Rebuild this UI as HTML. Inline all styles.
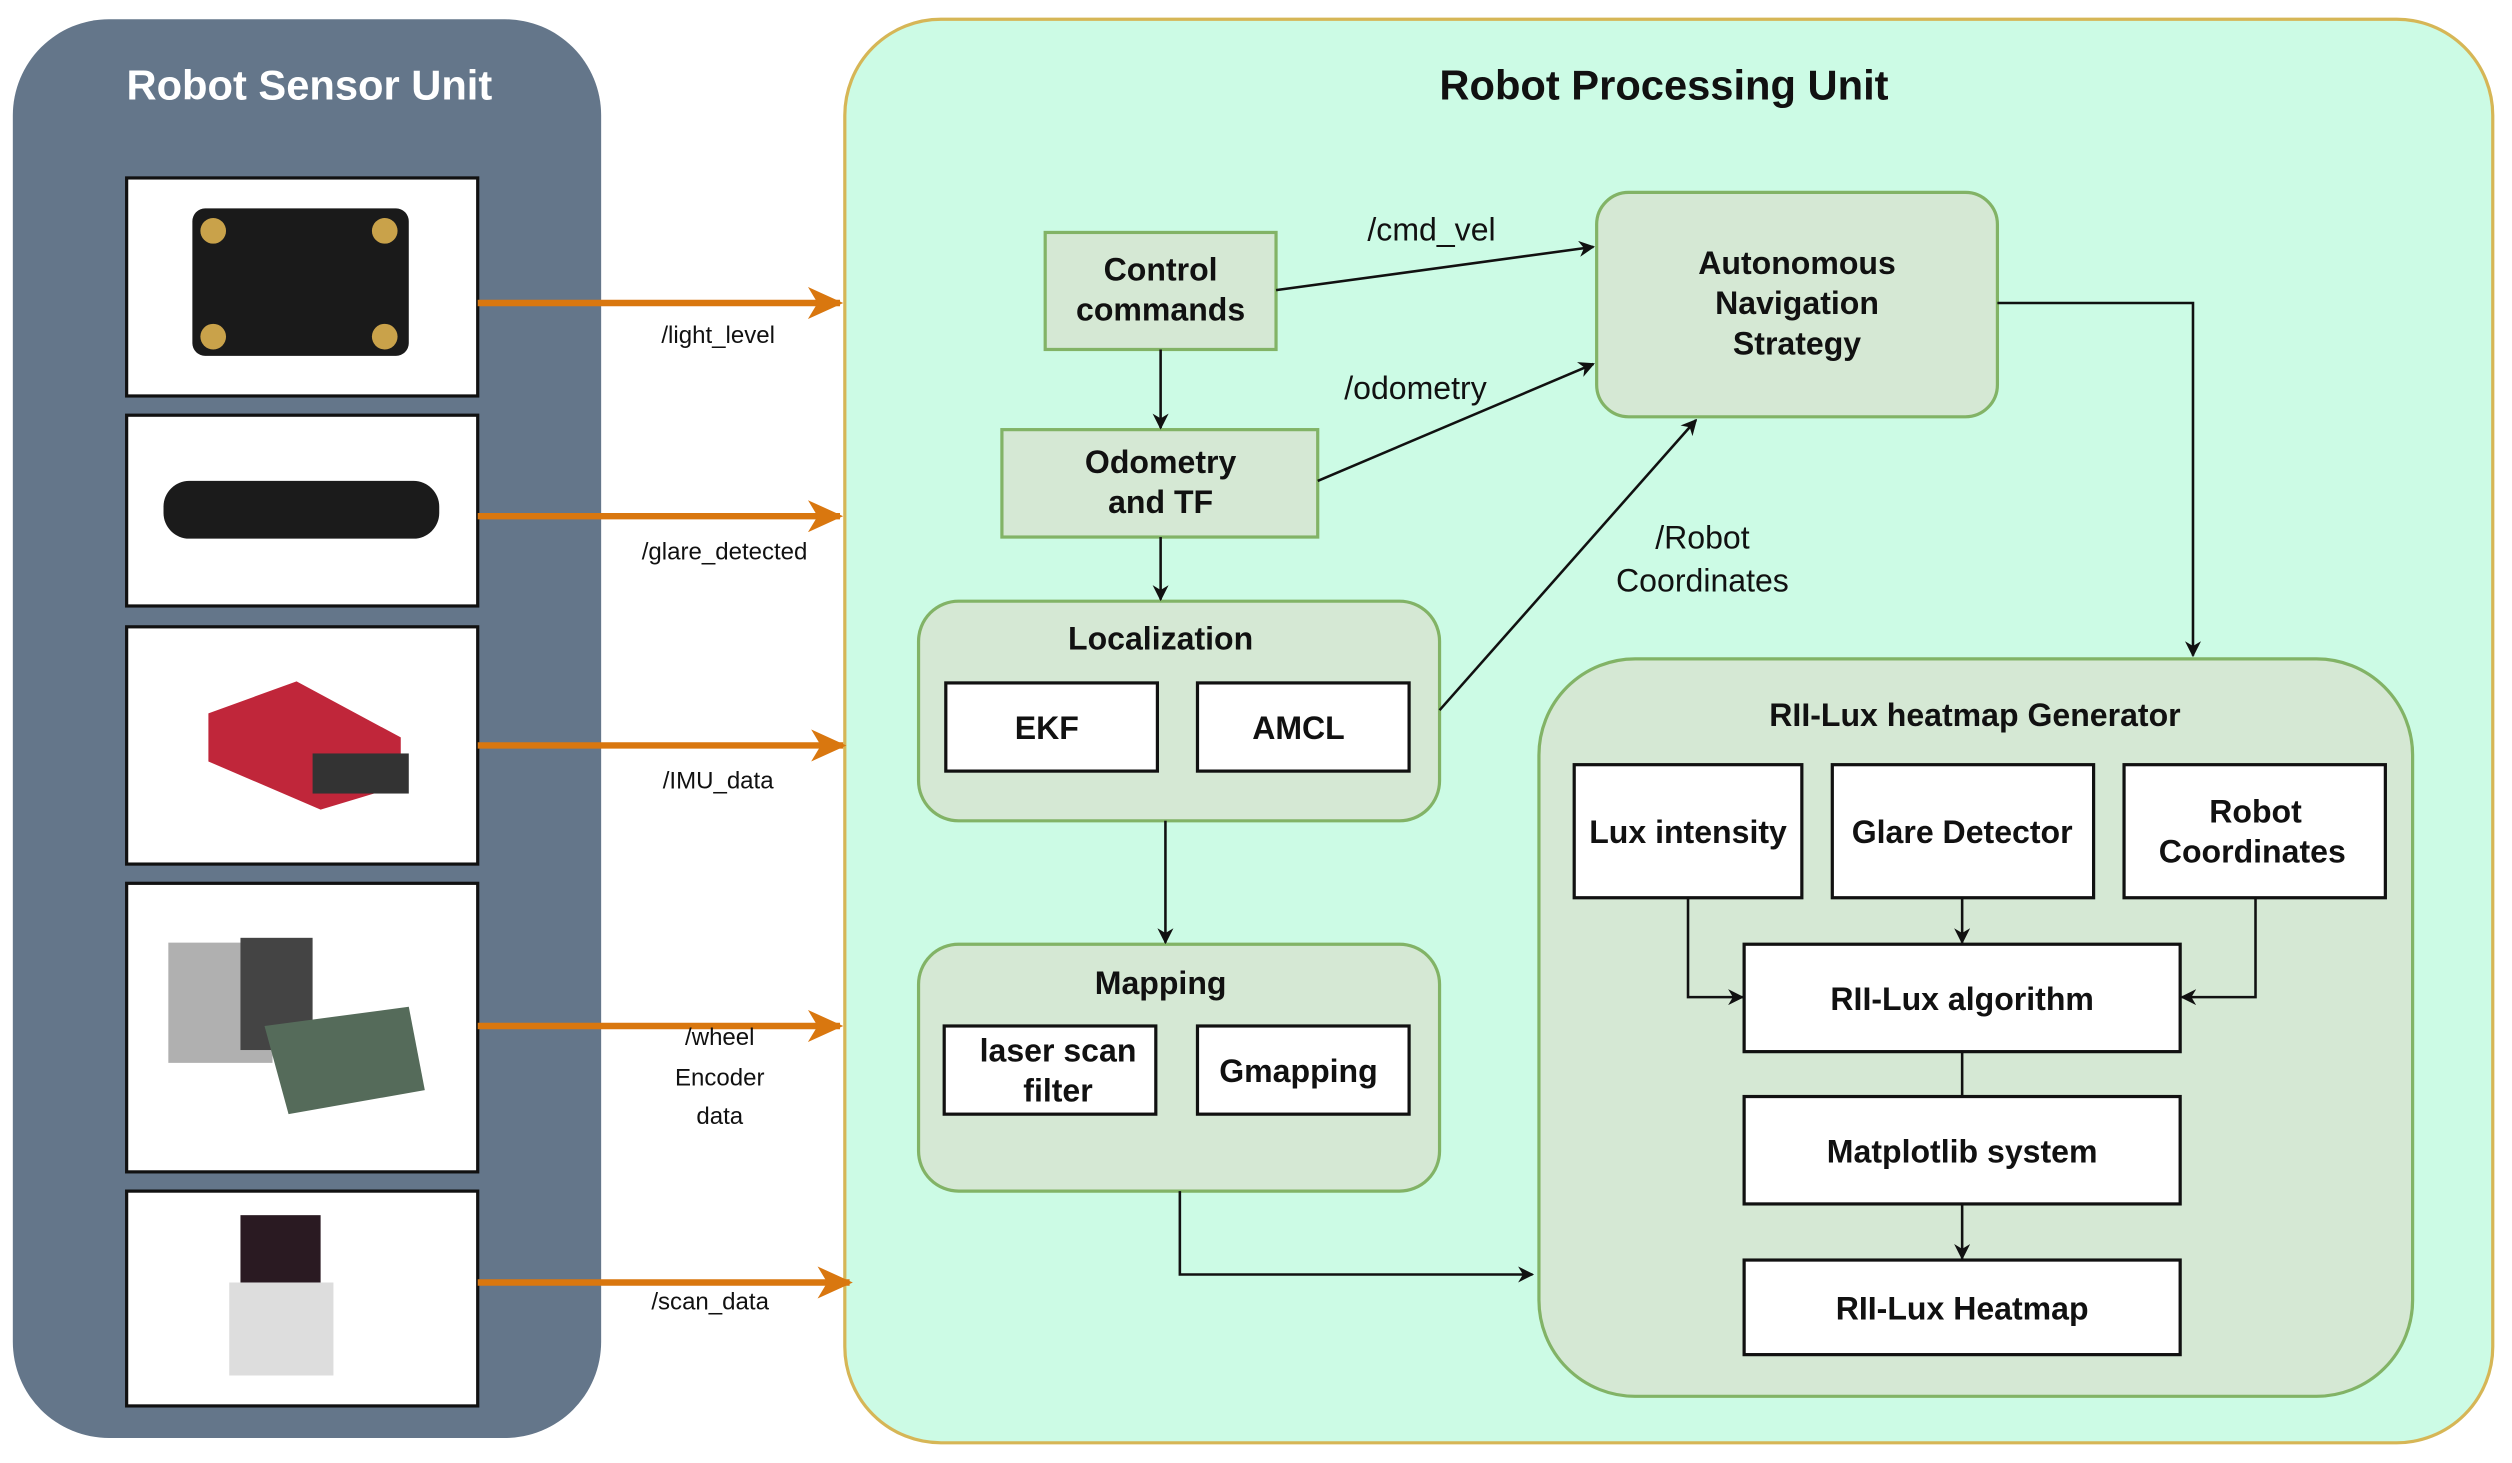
<!DOCTYPE html>
<html><head><meta charset="utf-8"><style>
html,body{margin:0;padding:0;background:#fff;}
svg{display:block;}
text{font-family:"Liberation Sans",sans-serif;}
.b{font-weight:bold;font-size:20px;fill:#111;}
.l{font-size:15px;fill:#111;}
</style></head><body>
<svg width="2512" height="1463" viewBox="0 0 1567 912.6" preserveAspectRatio="none" xmlns="http://www.w3.org/2000/svg">
<defs>
<marker id="ab" markerWidth="10" markerHeight="10" refX="9" refY="5" orient="auto" markerUnits="userSpaceOnUse"><path d="M0,0 L10,5 L0,10 L3,5 z" fill="#111"/></marker>
<marker id="ao" markerWidth="22" markerHeight="20" refX="20" refY="10" orient="auto" markerUnits="userSpaceOnUse"><path d="M0,0 L22,10 L0,20 L6,10 z" fill="#d9770f"/></marker>
</defs>
<rect x="8" y="12" width="367" height="885" rx="60" fill="#64768a"/>
<text x="193" y="62" text-anchor="middle" font-weight="bold" font-size="26" fill="#fff">Robot Sensor Unit</text>
<g fill="#fff" stroke="#111" stroke-width="2">
<rect x="79" y="111" width="219" height="136"/>
<rect x="79" y="259" width="219" height="119"/>
<rect x="79" y="391" width="219" height="148"/>
<rect x="79" y="551" width="219" height="180"/>
<rect x="79" y="743" width="219" height="134"/>
</g>
<rect x="120" y="130" width="135" height="92" rx="8" fill="#1a1a1a"/>
<g fill="#c9a24a"><circle cx="133" cy="144" r="8"/><circle cx="240" cy="144" r="8"/><circle cx="133" cy="210" r="8"/><circle cx="240" cy="210" r="8"/></g>
<rect x="102" y="300" width="172" height="36" rx="16" fill="#1b1b1b"/>
<path d="M130,445 L185,425 L250,460 L250,490 L200,505 L130,475 z" fill="#c0263a"/>
<rect x="195" y="470" width="60" height="25" fill="#333"/>
<rect x="105" y="588" width="65" height="75" fill="#b0b0b0"/><rect x="150" y="585" width="45" height="70" fill="#444"/>
<path d="M165,640 L255,628 L265,680 L180,695 z" fill="#556b5a"/>
<rect x="150" y="758" width="50" height="50" fill="#2a1a22"/><rect x="143" y="800" width="65" height="58" fill="#ddd"/>
<rect x="527" y="12" width="1028" height="888" rx="60" fill="#ccfbe5" stroke="#d6b656" stroke-width="2"/>
<text x="1038" y="62" text-anchor="middle" font-weight="bold" font-size="26" fill="#111">Robot Processing Unit</text>
<g stroke="#d9770f" stroke-width="4" marker-end="url(#ao)">
<line x1="298" y1="189" x2="524" y2="189"/>
<line x1="298" y1="322" x2="524" y2="322"/>
<line x1="298" y1="465" x2="526" y2="465"/>
<line x1="298" y1="640" x2="524" y2="640"/>
<line x1="298" y1="800" x2="530" y2="800"/>
</g>
<g text-anchor="middle">
<text x="448" y="214" class="l">/light_level</text>
<text x="452" y="349" class="l">/glare_detected</text>
<text x="448" y="492" class="l">/IMU_data</text>
<text x="449" y="652" class="l">/wheel</text>
<text x="449" y="677" class="l">Encoder</text>
<text x="449" y="701" class="l">data</text>
<text x="443" y="817" class="l">/scan_data</text>
</g>
<g fill="#d5e8d4" stroke="#82b366" stroke-width="2">
<rect x="652" y="145" width="144" height="73"/>
<rect x="625" y="268" width="197" height="67"/>
<rect x="996" y="120" width="250" height="140" rx="20"/>
<rect x="573" y="375" width="325" height="137" rx="25"/>
<rect x="573" y="589" width="325" height="154" rx="25"/>
<rect x="960" y="411" width="545" height="460" rx="60"/>
</g>
<g fill="#fff" stroke="#111" stroke-width="2">
<rect x="590" y="426" width="132" height="55"/>
<rect x="747" y="426" width="132" height="55"/>
<rect x="589" y="640" width="132" height="55"/>
<rect x="747" y="640" width="132" height="55"/>
<rect x="982" y="477" width="142" height="83"/>
<rect x="1143" y="477" width="163" height="83"/>
<rect x="1325" y="477" width="163" height="83"/>
<rect x="1088" y="589" width="272" height="67"/>
<rect x="1088" y="684" width="272" height="67"/>
<rect x="1088" y="786" width="272" height="59"/>
</g>
<g text-anchor="middle">
<text x="724" y="175" class="b">Control</text>
<text x="724" y="200" class="b">commands</text>
<text x="724" y="295" class="b">Odometry</text>
<text x="724" y="320" class="b">and TF</text>
<text x="1121" y="171" class="b">Autonomous</text>
<text x="1121" y="196" class="b">Navigation</text>
<text x="1121" y="221" class="b">Strategy</text>
<text x="724" y="405" class="b">Localization</text>
<text x="653" y="461" class="b">EKF</text>
<text x="810" y="461" class="b">AMCL</text>
<text x="724" y="620" class="b">Mapping</text>
<text x="660" y="662" class="b">laser scan</text>
<text x="660" y="687" class="b">filter</text>
<text x="810" y="675" class="b">Gmapping</text>
<text x="1232" y="453" class="b">RII-Lux heatmap Generator</text>
<text x="1053" y="526" class="b">Lux intensity</text>
<text x="1224" y="526" class="b">Glare Detector</text>
<text x="1407" y="513" class="b">Robot</text>
<text x="1405" y="538" class="b">Coordinates</text>
<text x="1224" y="630" class="b">RII-Lux algorithm</text>
<text x="1224" y="725" class="b">Matplotlib system</text>
<text x="1224" y="823" class="b">RII-Lux Heatmap</text>
</g>
<g stroke="#111" stroke-width="1.6" fill="none">
<line x1="796" y1="181" x2="994" y2="154" marker-end="url(#ab)"/>
<line x1="822" y1="300" x2="994" y2="227" marker-end="url(#ab)"/>
<line x1="898" y1="443" x2="1058" y2="262" marker-end="url(#ab)"/>
<polyline points="1246,189 1368,189 1368,409" marker-end="url(#ab)"/>
<line x1="724" y1="218" x2="724" y2="267" marker-end="url(#ab)"/>
<line x1="724" y1="335" x2="724" y2="374" marker-end="url(#ab)"/>
<line x1="727" y1="512" x2="727" y2="588" marker-end="url(#ab)"/>
<polyline points="736,743 736,795 956,795" marker-end="url(#ab)"/>
<polyline points="1053,560 1053,622 1087,622" marker-end="url(#ab)"/>
<line x1="1224" y1="560" x2="1224" y2="588" marker-end="url(#ab)"/>
<polyline points="1407,560 1407,622 1361,622" marker-end="url(#ab)"/>
<line x1="1224" y1="656" x2="1224" y2="684"/>
<line x1="1224" y1="751" x2="1224" y2="785" marker-end="url(#ab)"/>
</g>
<g font-size="20" fill="#111" text-anchor="middle">
<text x="893" y="150">/cmd_vel</text>
<text x="883" y="249">/odometry</text>
<text x="1062" y="342">/Robot</text>
<text x="1062" y="369">Coordinates</text>
</g>
</svg>
</body></html>
